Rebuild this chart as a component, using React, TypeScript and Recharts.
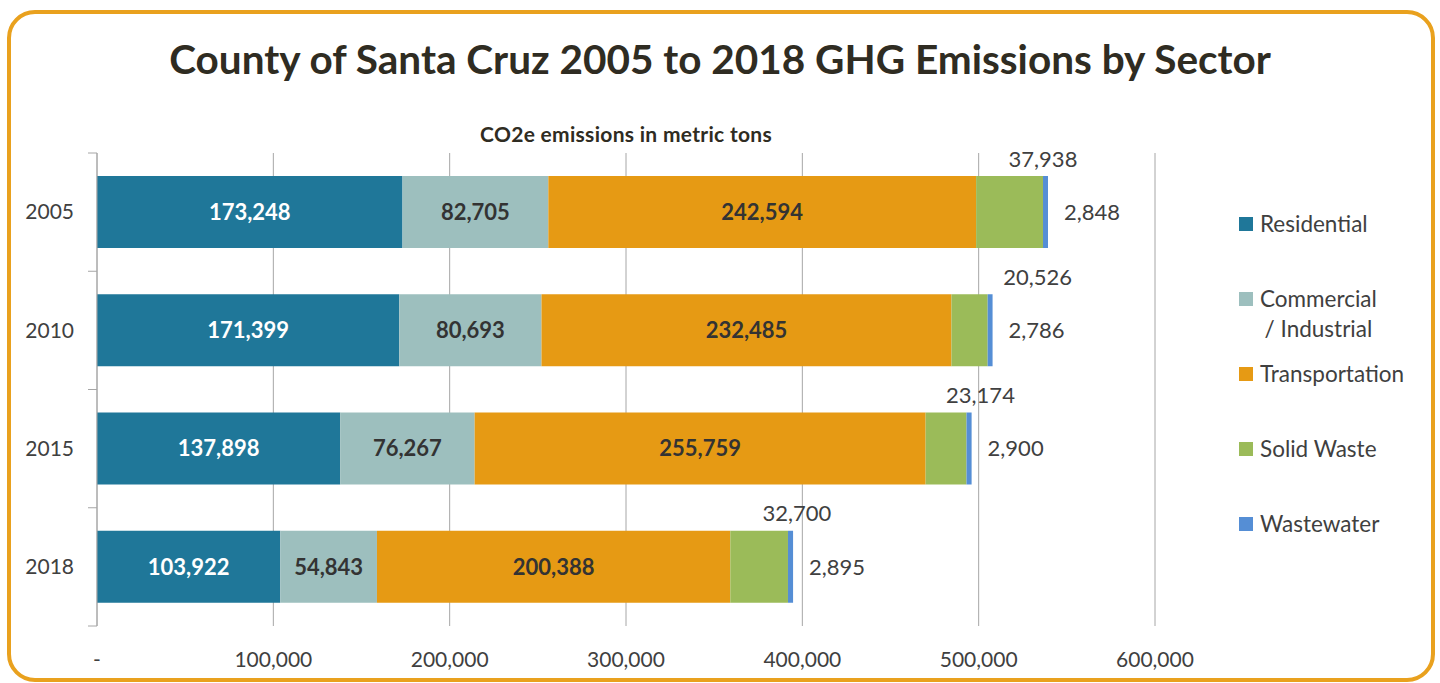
import { BarChart, Bar, XAxis, YAxis, CartesianGrid, LabelList } from "recharts";

const years = ["2005", "2010", "2015", "2018"];
const residential = [173248, 171399, 137898, 103922];
const commercial = [82705, 80693, 76267, 54843];
const transportation = [242594, 232485, 255759, 200388];
const solidWaste = [37938, 20526, 23174, 32700];
const wastewater = [2848, 2786, 2900, 2895];
const xTicks = [0, 100000, 200000, 300000, 400000, 500000, 600000];

const sectors = [
  { key: "residential", name: "Residential", color: "#1f7799" },
  { key: "commercial", name: "Commercial\n/ Industrial", color: "#9dbfbe" },
  { key: "transportation", name: "Transportation", color: "#e69a14" },
  { key: "solidWaste", name: "Solid Waste", color: "#9bbb59" },
  { key: "wastewater", name: "Wastewater", color: "#558ed5" },
];

// excel labels were dragged by hand a little
const solidLabelNudge = [0, 50, 14, 9];

const data = years.map((year, i) => ({
  year,
  residential: residential[i],
  commercial: commercial[i],
  transportation: transportation[i],
  solidWaste: solidWaste[i],
  wastewater: wastewater[i],
}));

const FONT = "Lato, 'Open Sans', sans-serif";
const TEXT = "#404040";
const GRID = "#a6a6a6";

const W = 1440;
const H = 683;
const margin = { top: 153, right: 285, bottom: 7, left: 7 };
const Y_AXIS_W = 90;
const X_AXIS_H = 50;
const band = (H - margin.top - margin.bottom - X_AXIS_H) / years.length;

const fmt = (v: number) => (v === 0 ? "-" : v.toLocaleString("en-US"));

function YearTick(props: any) {
  const { x, y, payload, index } = props;
  return (
    <g>
      <line x1={x - 9} x2={x} y1={y - band / 2} y2={y - band / 2} stroke={GRID} />
      {index === years.length - 1 && (
        <line x1={x - 9} x2={x} y1={y + band / 2} y2={y + band / 2} stroke={GRID} />
      )}
      <text x={x - 23} y={y} dy="0.35em" textAnchor="end" fontSize={21} fill={TEXT} fontFamily={FONT}>
        {payload.value}
      </text>
    </g>
  );
}

function SolidLabel(props: any) {
  const { x, y, width, value, index } = props;
  return (
    <text
      x={x + width + solidLabelNudge[index]}
      y={y - 17}
      dy="0.35em"
      textAnchor="middle"
      fontSize={22}
      fill={TEXT}
      fontFamily={FONT}
    >
      {fmt(value)}
    </text>
  );
}

function Legend() {
  return (
    <div style={{ position: "absolute", left: 1239, top: 209 }}>
      {sectors.map((s, i) => {
        const lines = s.name.split("\n");
        return (
          <div key={s.key} style={{ position: "absolute", left: 0, top: i * 75, whiteSpace: "nowrap" }}>
            <div style={{ position: "absolute", left: 0, top: 8, width: 14, height: 14, background: s.color }} />
            <div
              style={{
                position: "absolute",
                left: 21,
                top: 0,
                fontFamily: FONT,
                fontSize: 22.5,
                lineHeight: "30px",
                color: TEXT,
                textAlign: "center",
              }}
            >
              {lines.map((l) => (
                <div key={l}>{l}</div>
              ))}
            </div>
          </div>
        );
      })}
    </div>
  );
}

export default function App() {
  return (
    <div style={{ position: "absolute", left: 0, top: 0, width: W, height: H, background: "#fff", overflow: "hidden" }}>
      <div
        style={{
          position: "absolute",
          left: 7,
          top: 10,
          width: 1428,
          height: 672,
          boxSizing: "border-box",
          border: "4px solid #e9a11e",
          borderRadius: 28,
        }}
      />
      <div
        style={{
          position: "absolute",
          left: 0,
          width: W,
          top: 34,
          textAlign: "center",
          fontFamily: FONT,
          fontWeight: 700,
          fontSize: 40.5,
          lineHeight: "50px",
          color: "#2f2c22",
        }}
      >
        County of Santa Cruz 2005 to 2018 GHG Emissions by Sector
      </div>
      <div
        style={{
          position: "absolute",
          left: 97,
          width: 1058,
          top: 120,
          textAlign: "center",
          fontFamily: FONT,
          fontWeight: 700,
          fontSize: 21,
          letterSpacing: 0.3,
          lineHeight: "28px",
          color: "#2f2c22",
        }}
      >
        CO2e emissions in metric tons
      </div>
      <div style={{ position: "absolute", left: 0, top: 0 }}>
        <BarChart width={W} height={H} data={data} layout="vertical" margin={margin}>
          <CartesianGrid horizontal={false} stroke={GRID} />
          <XAxis
            type="number"
            domain={[0, 600000]}
            ticks={xTicks}
            tickFormatter={fmt}
            axisLine={false}
            tickLine={false}
            tickSize={0}
            tickMargin={26}
            height={X_AXIS_H}
            tick={{ fontSize: 21, fill: TEXT, fontFamily: FONT }}
          />
          <YAxis
            type="category"
            dataKey="year"
            width={Y_AXIS_W}
            axisLine={{ stroke: GRID }}
            tickLine={false}
            tickSize={0}
            tickMargin={0}
            tick={<YearTick />}
          />
          <Bar dataKey="residential" stackId="a" fill={sectors[0].color} barSize={72} isAnimationActive={false}>
            <LabelList dataKey="residential" position="center" formatter={fmt} fill="#ffffff" fontSize={22} fontWeight={700} fontFamily={FONT} />
          </Bar>
          <Bar dataKey="commercial" stackId="a" fill={sectors[1].color} barSize={72} isAnimationActive={false}>
            <LabelList dataKey="commercial" position="center" formatter={fmt} fill="#333333" fontSize={22} fontWeight={700} fontFamily={FONT} />
          </Bar>
          <Bar dataKey="transportation" stackId="a" fill={sectors[2].color} barSize={72} isAnimationActive={false}>
            <LabelList dataKey="transportation" position="center" formatter={fmt} fill="#333333" fontSize={22} fontWeight={700} fontFamily={FONT} />
          </Bar>
          <Bar dataKey="solidWaste" stackId="a" fill={sectors[3].color} barSize={72} isAnimationActive={false}>
            <LabelList dataKey="solidWaste" content={<SolidLabel />} />
          </Bar>
          <Bar dataKey="wastewater" stackId="a" fill={sectors[4].color} barSize={72} isAnimationActive={false}>
            <LabelList dataKey="wastewater" position="right" offset={16} formatter={fmt} fill={TEXT} fontSize={22} fontFamily={FONT} />
          </Bar>
        </BarChart>
      </div>
      <Legend />
    </div>
  );
}
